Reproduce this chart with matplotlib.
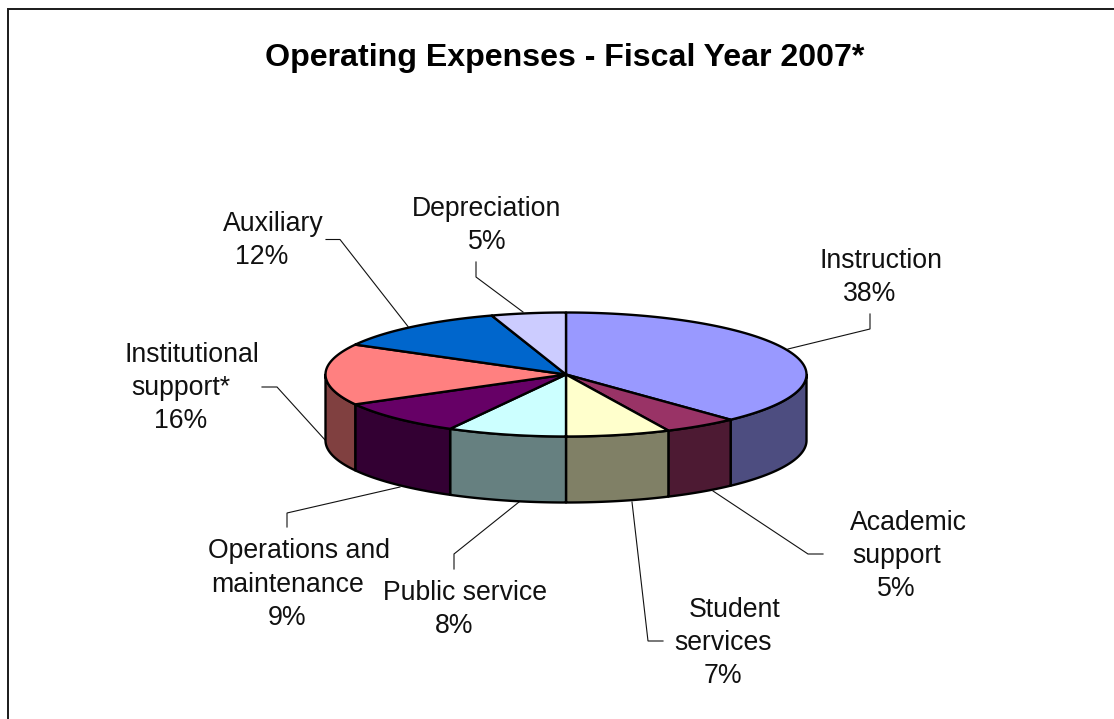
import numpy as np
import matplotlib
matplotlib.use("Agg")
import matplotlib.pyplot as plt
from matplotlib.patches import Polygon

# Expense shares, clockwise from twelve o'clock
categories = ["Instruction", "Academic support", "Student services", "Public service",
              "Operations and maintenance", "Institutional support*", "Auxiliary", "Depreciation"]
shares = [38, 5, 7, 8, 9, 16, 12, 5]
top_colors = ["#9999FF", "#993366", "#FFFFCC", "#CCFFFF", "#660066", "#FF8080", "#0066CC", "#CCCCFF"]
side_colors = ["#4D4D80", "#4D1A33", "#808066", "#668080", "#330033", "#804040", "#003366", "#666680"]
label_lines = [["Instruction"], ["Academic", "support"], ["Student", "services"], ["Public service"],
               ["Operations and", "maintenance"], ["Institutional", "support*"], ["Auxiliary"], ["Depreciation"]]

# Pie geometry in pixels
CX, CY, RX, RY, DEPTH = 566.0, 374.5, 240.5, 62.0, 66.0

# Centre of each label line, pixels; the last entry of each list is the percentage line
label_pos = [
    [(881, 261), (870, 294)],
    [(908, 523), (896.5, 556), (896.5, 589)],
    [(735, 610), (723, 643), (723, 676)],
    [(465, 593), (454, 626)],
    [(299, 551), (287.5, 585), (287, 618)],
    [(192, 355), (181, 388), (181, 421)],
    [(273, 224), (262, 257)],
    [(487, 209), (487, 242)],
]
leaders = [
    [(870, 314), (870, 329), (788, 349)],
    [(823, 554), (808, 554), (713, 491)],
    [(663, 641), (648, 641), (632, 502)],
    [(454, 569), (454, 554), (519, 502)],
    [(287, 527), (287, 513), (400, 487)],
    [(262, 387), (277, 387), (326, 441)],
    [(326, 239.5), (340, 239.5), (408, 326.5)],
    [(476, 262), (476, 277), (523, 312)],
]

FONT = "Liberation Sans"
LINE_W = 1.7

fig = plt.figure(figsize=(11.14, 7.19), dpi=100, facecolor="white")
ax = fig.add_axes([0, 0, 1, 1])
ax.set_xlim(0, 1114)
ax.set_ylim(719, 0)
ax.axis("off")

# Chart frame: only the top and left edges fall inside the canvas
ax.plot([8, 8, 1114], [719, 8.8, 8.8], color="#1a1a1a", lw=1.4, solid_joinstyle="miter")


def rim(theta, drop=0.0):
    return np.column_stack([CX + RX * np.sin(theta), CY - RY * np.cos(theta) + drop])


edges = 2 * np.pi * np.concatenate([[0], np.cumsum(shares)]) / np.sum(shares)

# Outer wall: only the part of the rim facing the viewer
for a, b, col in zip(edges[:-1], edges[1:], side_colors):
    lo, hi = max(a, np.pi / 2), min(b, 3 * np.pi / 2)
    if lo < hi:
        t = np.linspace(lo, hi, 80)
        pts = np.vstack([rim(t), rim(t[::-1], DEPTH)])
        ax.add_patch(Polygon(pts, closed=True, fc=col, ec="black", lw=LINE_W, joinstyle="round", zorder=2))

# Top face
for a, b, col in zip(edges[:-1], edges[1:], top_colors):
    t = np.linspace(a, b, 120)
    pts = np.vstack([[CX, CY], rim(t)])
    ax.add_patch(Polygon(pts, closed=True, fc=col, ec="black", lw=LINE_W, joinstyle="round", zorder=3))

# Leader lines
for path in leaders:
    xs, ys = zip(*path)
    ax.plot(xs, ys, color="#111111", lw=0.8, zorder=1, solid_joinstyle="miter")

# Labels
for lines, share, spots in zip(label_lines, shares, label_pos):
    for txt, (x, y) in zip(lines + [f"{share}%"], spots):
        ax.text(x, y, txt, ha="center", va="center", fontsize=19.2, family=FONT, color="#111111")

ax.text(565, 58, "Operating Expenses - Fiscal Year 2007*", ha="center", va="center",
        fontsize=23.1, fontweight="bold", family=FONT, color="black")

fig.savefig("out.png", dpi=100, facecolor="white")
